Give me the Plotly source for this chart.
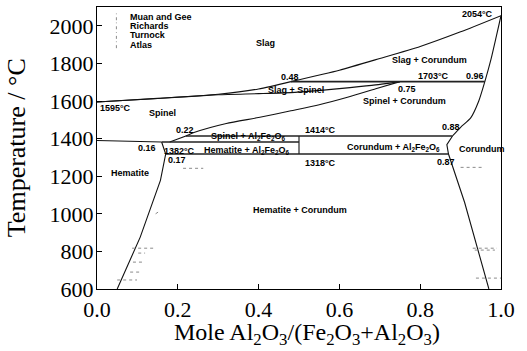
import plotly.graph_objects as go

# ---- Phase boundaries (x = mole Al2O3/(Fe2O3+Al2O3), T in °C) ----
liq_low_x = [0.0, 0.15, 0.30, 0.40, 0.48]
liq_low_T = [1595, 1614, 1636, 1664, 1703]

spinel_solidus_x = [0.0, 0.15, 0.30, 0.40, 0.49, 0.60, 0.68, 0.75]
spinel_solidus_T = [1595, 1613, 1633, 1639, 1646, 1666, 1683, 1703]

liq_high_x = [0.48, 0.60, 0.70, 0.80, 0.90, 1.0]
liq_high_T = [1703, 1764, 1826, 1890, 1968, 2054]

spinel_solvus_x = [0.18, 0.22, 0.24, 0.32, 0.40, 0.48, 0.55, 0.62, 0.69, 0.75]
spinel_solvus_T = [1382, 1414, 1432, 1480, 1512, 1548, 1580, 1620, 1665, 1703]

corundum_hi_x = [1.0, 0.988, 0.975, 0.96, 0.945, 0.925, 0.90, 0.88]
corundum_hi_T = [2054, 1940, 1820, 1703, 1600, 1510, 1460, 1414]
corundum_lo_x = [0.88, 0.866, 0.87, 0.91, 0.97]
corundum_lo_T = [1414, 1368, 1318, 1060, 600]

hematite_top_x = [0.0, 0.16]
hematite_top_T = [1390, 1382]
hematite_x = [0.16, 0.17, 0.157, 0.139, 0.107, 0.05]
hematite_T = [1382, 1318, 1178, 1072, 876, 600]

# invariant isotherms
iso_T = [1703, 1414, 1382, 1318]
iso_x0 = [0.48, 0.22, 0.16, 0.17]
iso_x1 = [0.96, 0.88, 0.50, 0.87]

# Al2Fe2O6 composition line
afo_x = [0.50, 0.50]
afo_T = [1318, 1414]

# ---- Experimental data (short dotted tie segments) ----
muan_x = [0.087, 0.139, None, 0.930, 0.990]
muan_T = [817, 817, None, 817, 817]
richards_x = [0.102, 0.119, None, 0.935, 0.985, None, 0.213, 0.263]
richards_T = [791, 791, None, 807, 807, None, 1242, 1242]
turnock_x = [0.089, 0.114, None, 0.082, 0.107, None, 0.900, 0.958]
turnock_T = [743, 743, None, 690, 690, None, 1247, 1247]
atlas_x = [0.050, 0.099, None, 0.938, 1.0, None, 0.145, 0.152]
atlas_T = [648, 648, None, 658, 658, None, 1000, 1010]

# ---- Region and point labels ----
label_text = [
    "Slag", "Slag + Corundum", "2054°C", "0.48", "1703°C", "0.96",
    "Slag + Spinel", "0.75", "Spinel + Corundum", "1595°C", "Spinel", "0.22",
    "Spinel + Al<sub>2</sub>Fe<sub>2</sub>O<sub>6</sub>",
    "Hematite + Al<sub>2</sub>Fe<sub>2</sub>O<sub>6</sub>",
    "0.16", "1382°C", "0.17", "1414°C",
    "Corundum + Al<sub>2</sub>Fe<sub>2</sub>O<sub>6</sub>",
    "1318°C", "0.88", "Corundum", "0.87", "Hematite", "Hematite + Corundum",
]
label_x = [0.416, 0.824, 0.943, 0.478, 0.832, 0.936,
           0.492, 0.767, 0.762, 0.045, 0.161, 0.218,
           0.374, 0.371, 0.124, 0.205, 0.198, 0.554,
           0.733, 0.554, 0.876, 0.953, 0.864, 0.082, 0.502]
label_T = [1908, 1818, 2063, 1728, 1733, 1733,
           1659, 1664, 1600, 1563, 1536, 1446,
           1409, 1339, 1350, 1334, 1286, 1446,
           1355, 1270, 1462, 1345, 1276, 1217, 1020]

legend_names = ["Muan and Gee", "Richards", "Turnock", "Atlas"]

x_ticks = [0.0, 0.2, 0.4, 0.6, 0.8, 1.0]
y_ticks = [600, 800, 1000, 1200, 1400, 1600, 1800, 2000]

LINE = dict(color="#111111", width=1.1)
THICK = dict(color="#222222", width=1.6)
EXP = dict(color="#8a8a8a", width=1, dash="dot")

fig = go.Figure()

smooth = [(liq_low_x, liq_low_T), (spinel_solidus_x, spinel_solidus_T),
          (liq_high_x, liq_high_T), (spinel_solvus_x, spinel_solvus_T),
          (corundum_hi_x, corundum_hi_T)]
for xs, ts in smooth:
    fig.add_trace(go.Scatter(x=xs, y=ts, mode="lines", line=LINE,
                             line_shape="spline", line_smoothing=0.6,
                             showlegend=False, hoverinfo="skip"))

straight = [(corundum_lo_x, corundum_lo_T), (hematite_top_x, hematite_top_T),
            (hematite_x, hematite_T), (afo_x, afo_T)]
for xs, ts in straight:
    fig.add_trace(go.Scatter(x=xs, y=ts, mode="lines", line=LINE,
                             showlegend=False, hoverinfo="skip"))

for t, a, b in zip(iso_T, iso_x0, iso_x1):
    fig.add_trace(go.Scatter(x=[a, b], y=[t, t], mode="lines", line=THICK,
                             showlegend=False, hoverinfo="skip"))

for name, xs, ts in zip(legend_names, [muan_x, richards_x, turnock_x, atlas_x],
                        [muan_T, richards_T, turnock_T, atlas_T]):
    fig.add_trace(go.Scatter(x=xs, y=ts, mode="lines", line=EXP, name=name,
                             showlegend=False, hoverinfo="skip"))

LBL = dict(family="Arial", size=9, color="black")
for txt, x, t in zip(label_text, label_x, label_T):
    fig.add_annotation(x=x, y=t, text="<b>" + txt + "</b>", showarrow=False, font=LBL,
                       xanchor="center", yanchor="middle")

# key for the experimental sources
legend_rows = [0.965, 0.933, 0.899, 0.866]
for name, yy in zip(legend_names, legend_rows):
    fig.add_annotation(xref="paper", yref="paper", x=0.077, y=yy, text="<b>" + name + "</b>",
                       showarrow=False, xanchor="left", yanchor="middle", font=LBL)
    fig.add_shape(type="line", xref="paper", yref="paper", x0=0.048, x1=0.048,
                  y0=yy - 0.012, y1=yy + 0.012,
                  line=dict(color="#8a8a8a", width=1, dash="dot"))

SERIF = "Times New Roman"
fig.add_annotation(xref="paper", yref="paper", x=0.52, y=-0.158, yanchor="middle",
                   showarrow=False, font=dict(family=SERIF, size=24, color="black"),
                   text="Mole Al<sub>2</sub>O<sub>3</sub>/(Fe<sub>2</sub>O<sub>3</sub>+Al<sub>2</sub>O<sub>3</sub>)")
fig.add_annotation(xref="paper", yref="paper", x=-0.2, y=0.5, xanchor="center",
                   showarrow=False, font=dict(family=SERIF, size=26, color="black"),
                   textangle=-90, text="Temperature / °C")

fig.update_xaxes(range=[0, 1], tickvals=x_ticks, tickformat=".1f",
                 ticks="inside", ticklen=5, tickcolor="black",
                 showline=True, linecolor="black", linewidth=1.3, mirror=True,
                 showgrid=False, zeroline=False, ticklabelstandoff=0,
                 tickfont=dict(family=SERIF, size=22, color="black"))
fig.update_yaxes(range=[600, 2100], tickvals=y_ticks,
                 ticks="inside", ticklen=5, tickcolor="black",
                 showline=True, linecolor="black", linewidth=1.3, mirror=True,
                 showgrid=False, zeroline=False, ticklabelstandoff=-2,
                 tickfont=dict(family=SERIF, size=22, color="black"))

fig.update_layout(width=527, height=351, margin=dict(l=97, r=26, t=7, b=62),
                  paper_bgcolor="white", plot_bgcolor="white", showlegend=False)

fig.write_html("out.html")
